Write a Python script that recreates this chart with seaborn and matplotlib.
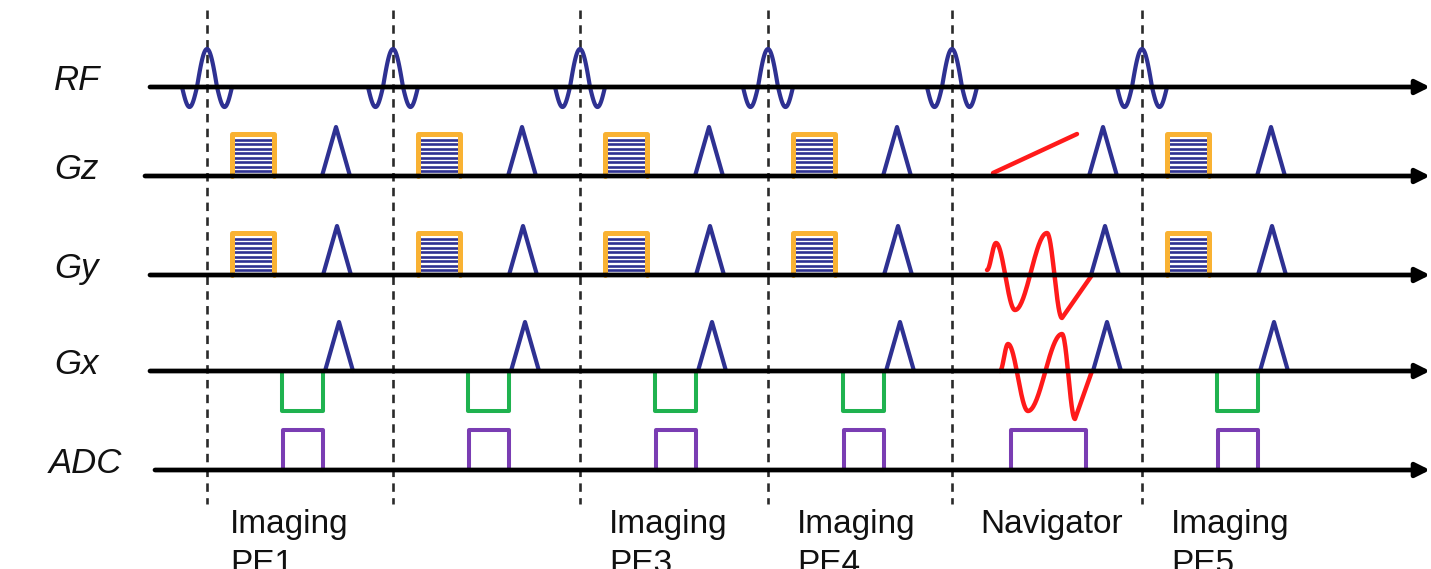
import numpy as np
import pandas as pd
import matplotlib
matplotlib.use("Agg")
import matplotlib.pyplot as plt
import seaborn as sns

sns.set_theme(style="white")
plt.rcParams["font.family"] = ["Liberation Sans", "DejaVu Sans"]

# ---- sequence layout (canvas units, y grows downward) ----
channels = ["RF", "Gz", "Gy", "Gx", "ADC"]
baseline_y = [87, 176, 275, 371, 470]
axis_start = [150, 145, 150, 150, 155]
label_x = [77, 76, 76, 76, 85]

# TR boundaries (dashed markers) and what each TR contains
tr_edges = [207, 393, 580, 768, 952, 1142]
block_kind = ["imaging", "imaging", "imaging", "imaging", "navigator", "imaging"]
block_labels = ["Imaging\nPE1", "", "Imaging\nPE3", "Imaging\nPE4", "Navigator", "Imaging\nPE5"]
label_offset = [23, 28, 29, 29, 28, 29]

# imaging block timings relative to TR start
pe_box = (25, 67)          # phase/partition encode table, start/end
pe_box_height = 42
spoiler_apex = 131         # crusher triangle apex
spoiler_half = 14
spoiler_height = 49
readout = (75, 116)        # Gx readout lobe (negative)
readout_depth = 40
adc_window = (76, 116)
adc_height = 40

# navigator block
nav_gz_ramp_t = [41, 125]
nav_gz_ramp_amp = [3, 42]
nav_gy_t = [35, 44, 63, 95, 110, 140]
nav_gy_amp = [5, 32, -35, 42, -43, 0]
nav_gx_t = [48, 56, 76, 110, 123, 140]
nav_gx_amp = [0, 27, -40, 37, -48, 0]
nav_spoiler_apex = 153
nav_adc = (59, 134)

# RF pulse lobes: (start, end, amplitude) relative to the pulse centre
rf_lobes = [(-25, -10, -20), (-10, 10, 38), (10, 25, -20)]

BLUE = "#2e3192"
ORANGE = "#f9b233"
GREEN = "#1fb24f"
PURPLE = "#7a3db3"
RED = "#ff1a1a"

fig = plt.figure(figsize=(14.31, 5.69), dpi=100)
ax = fig.add_axes([0, 0, 1, 1])
ax.set_xlim(0, 1431)
ax.set_ylim(569, 0)
ax.axis("off")

shapes = {"blue": [], "orange": [], "stripe": [], "green": [], "purple": [], "red": []}


def add(kind, xs, ys):
    sid = len(shapes[kind])
    shapes[kind].append(pd.DataFrame({"x": xs, "y": ys, "shape": sid}))


def half_cos_path(t, amp, base, x0, last_linear=True):
    xs, ys = [], []
    n = len(t) - 1
    for i in range(n):
        s = np.linspace(0, 1, 40)
        if last_linear and i == n - 1:
            w = s
        else:
            w = (1 - np.cos(np.pi * s)) / 2
        xs.extend(x0 + t[i] + (t[i + 1] - t[i]) * s)
        ys.extend(base - (amp[i] + (amp[i + 1] - amp[i]) * w))
    return xs, ys


def triangle(x_apex, base, height):
    add("blue", [x_apex - spoiler_half, x_apex, x_apex + spoiler_half],
        [base, base - height, base])


def pe_table(x0, base):
    a, b = x0 + pe_box[0], x0 + pe_box[1]
    top = base - pe_box_height
    for yy in np.linspace(top + 6, base - 5, 8):
        add("stripe", [a + 2, b - 2], [yy, yy])
    add("orange", [a, a, b, b], [base, top, top, base])


yRF, yGz, yGy, yGx, yADC = baseline_y
for x0, kind in zip(tr_edges, block_kind):
    # RF excitation
    xs, ys = [], []
    for s0, s1, amp in rf_lobes:
        s = np.linspace(0, 1, 40)
        xs.extend(x0 + s0 + (s1 - s0) * s)
        ys.extend(yRF - amp * np.sin(np.pi * s))
    add("blue", xs, ys)

    if kind == "imaging":
        pe_table(x0, yGz)
        pe_table(x0, yGy)
        triangle(x0 + spoiler_apex - 2, yGz, spoiler_height)
        triangle(x0 + spoiler_apex - 1, yGy, spoiler_height)
        triangle(x0 + spoiler_apex + 1, yGx, spoiler_height)
        a, b = readout
        add("green", [x0 + a, x0 + a, x0 + b, x0 + b],
            [yGx, yGx + readout_depth, yGx + readout_depth, yGx])
        a, b = adc_window
        add("purple", [x0 + a, x0 + a, x0 + b, x0 + b, x0 + a],
            [yADC, yADC - adc_height, yADC - adc_height, yADC, yADC])
    else:
        add("red", [x0 + nav_gz_ramp_t[0], x0 + nav_gz_ramp_t[1]],
            [yGz - nav_gz_ramp_amp[0], yGz - nav_gz_ramp_amp[1]])
        add("red", *half_cos_path(nav_gy_t, nav_gy_amp, yGy, x0))
        add("red", *half_cos_path(nav_gx_t, nav_gx_amp, yGx, x0))
        triangle(x0 + nav_spoiler_apex - 2, yGz, spoiler_height)
        triangle(x0 + nav_spoiler_apex, yGy, spoiler_height)
        triangle(x0 + nav_spoiler_apex + 2, yGx, spoiler_height)
        a, b = nav_adc
        add("purple", [x0 + a, x0 + a, x0 + b, x0 + b, x0 + a],
            [yADC, yADC - adc_height, yADC - adc_height, yADC, yADC])

styles = {
    "stripe": (BLUE, 1.9, 2),
    "orange": (ORANGE, 3.6, 3),
    "blue": (BLUE, 3.0, 3),
    "green": (GREEN, 2.9, 3),
    "purple": (PURPLE, 2.9, 3),
    "red": (RED, 3.2, 3),
}
for kind, (color, lw, z) in styles.items():
    if not shapes[kind]:
        continue
    df = pd.concat(shapes[kind], ignore_index=True)
    sns.lineplot(data=df, x="x", y="y", units="shape", estimator=None, sort=False,
                 color=color, lw=lw, ax=ax, zorder=z, legend=False,
                 solid_joinstyle="round", solid_capstyle="round")

# TR boundary markers
for x0 in tr_edges:
    ax.plot([x0, x0], [10, 504], color="#2a2a2a", lw=1.9, ls=(0, (3.2, 2.4)), zorder=1)

# channel time axes with arrows
for name, y, xs0, lx in zip(channels, baseline_y, axis_start, label_x):
    ax.annotate("", xy=(1430, y), xytext=(xs0, y),
                arrowprops=dict(arrowstyle="-|>", lw=3.4, color="black",
                                mutation_scale=21, shrinkA=0, shrinkB=0),
                zorder=4)
    ax.text(lx, y - 7, name, fontsize=25, style="italic", ha="center",
            va="center", color="#111111")

for x0, off, lab in zip(tr_edges, label_offset, block_labels):
    if lab:
        ax.text(x0 + off, 509, lab, fontsize=24, ha="left", va="top",
                color="#111111", linespacing=1.38)

fig.savefig("out.png", dpi=100, facecolor="white")
